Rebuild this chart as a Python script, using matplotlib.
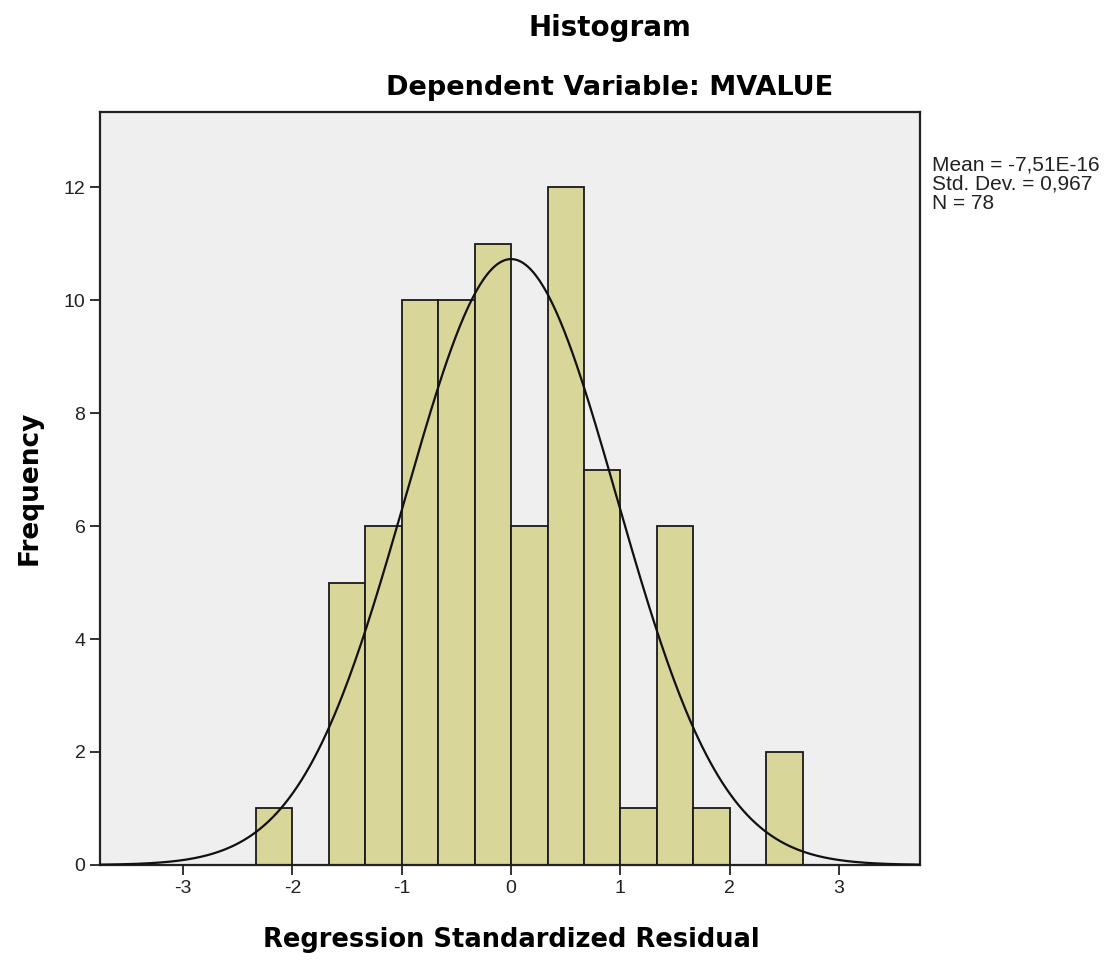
import numpy as np
import matplotlib

matplotlib.use("Agg")
import matplotlib.pyplot as plt

plt.rcParams["axes.unicode_minus"] = False

# bin edges (width 1/3) and counts
BIN_EDGES = [-7 / 3, -2, -5 / 3, -4 / 3, -1, -2 / 3, -1 / 3, 0,
             1 / 3, 2 / 3, 1, 4 / 3, 5 / 3, 2, 7 / 3, 8 / 3]
COUNTS = [1, 0, 5, 6, 10, 10, 11, 6, 12, 7, 1, 6, 1, 0, 2]

MEAN = -7.51e-16
STD_DEV = 0.967
N = 78

X_TICKS = [-3, -2, -1, 0, 1, 2, 3]
Y_TICKS = [0, 2, 4, 6, 8, 10, 12]

BAR_COLOR = "#d8d699"
PANEL_COLOR = "#efefef"

TITLE_FONT = "DejaVu Sans"
BODY_FONT = "Liberation Sans"


def plot() -> None:
    fig = plt.figure(figsize=(11.15, 9.6), dpi=100)
    ax = fig.add_axes([0.0897, 0.099, 0.7354, 0.7843])
    ax.set_facecolor(PANEL_COLOR)

    edges = np.array(BIN_EDGES)
    widths = np.diff(edges)
    ax.bar(edges[:-1], COUNTS, width=widths, align="edge",
           color=BAR_COLOR, edgecolor="#1a1a1a", linewidth=1.3, zorder=2)

    # normal curve from the reported mean / std. dev. / N
    bin_width = widths[0]
    xs = np.linspace(-3.76, 3.74, 400)
    ys = N * bin_width / (STD_DEV * np.sqrt(2 * np.pi)) * np.exp(
        -0.5 * ((xs - MEAN) / STD_DEV) ** 2)
    ax.plot(xs, ys, color="#111111", linewidth=1.6, zorder=3)

    ax.set_xlim(-3.76, 3.74)
    ax.set_ylim(0, 13.33)
    ax.set_xticks(X_TICKS, [str(t) for t in X_TICKS])
    ax.set_yticks(Y_TICKS, [str(t) for t in Y_TICKS])
    ax.tick_params(axis="both", direction="out", length=7, width=1.3,
                   colors="#222222", labelsize=14)
    for label in ax.get_xticklabels() + ax.get_yticklabels():
        label.set_fontfamily(BODY_FONT)
    for spine in ax.spines.values():
        spine.set_color("#222222")
        spine.set_linewidth(1.6)

    fig.text(0.547, 0.971, "Histogram", ha="center", va="center",
             fontsize=20, fontweight="bold", family=TITLE_FONT)
    fig.text(0.547, 0.908, "Dependent Variable: MVALUE", ha="center",
             va="center", fontsize=19.5, fontweight="bold", family=TITLE_FONT)
    fig.text(0.459, 0.021, "Regression Standardized Residual", ha="center",
             va="center", fontsize=18.5, fontweight="bold", family=TITLE_FONT)
    fig.text(0.027, 0.492, "Frequency", ha="center", va="center",
             rotation=90, fontsize=19, fontweight="bold", family=TITLE_FONT)

    stats = "Mean = -7,51E-16\nStd. Dev. = 0,967\nN = 78"
    fig.text(0.836, 0.838, stats, ha="left", va="top", fontsize=15,
             family=BODY_FONT, color="#222222", linespacing=1.0)

    fig.savefig("out.png", dpi=100, facecolor="white")
    plt.close(fig)


if __name__ == "__main__":
    plot()
